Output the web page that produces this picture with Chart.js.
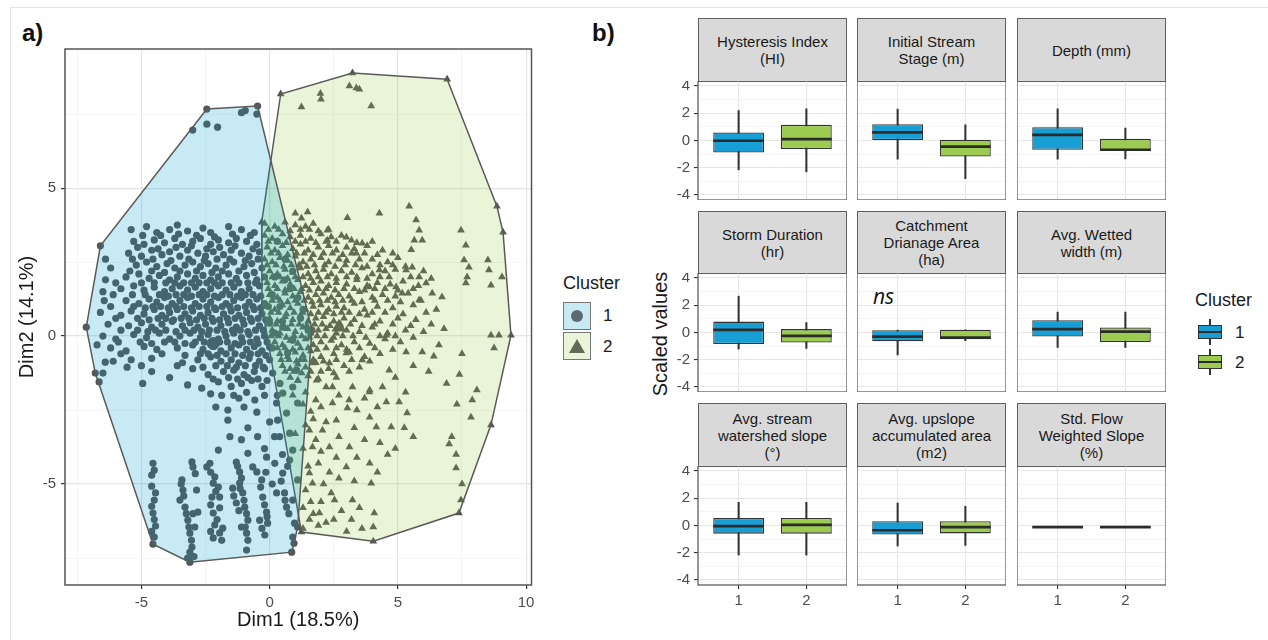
<!DOCTYPE html>
<html>
<head>
<meta charset="utf-8">
<script src="https://cdn.jsdelivr.net/npm/chart.js@4.4.1/dist/chart.umd.min.js"></script>
<style>
  body { margin: 0; background: #fff; }
  #fig { position: relative; width: 1268px; height: 640px; overflow: hidden; font-family: 'Liberation Sans', Arial, sans-serif; color: #1a1a1a; }
  #fig canvas { position: absolute; }
  .abs { position: absolute; white-space: nowrap; }
  .strip { position: absolute; box-sizing: border-box; background: #d9d9d9; border: 1.3px solid #5f5f5f; display: flex; align-items: center; justify-content: center; text-align: center; font-size: 15px; line-height: 17px; color: #1a1a1a; }
  .akey { position: absolute; box-sizing: border-box; width: 28px; height: 28px; border: 1.5px solid #777; }
  .dot { position: absolute; left: 6.5px; top: 6.5px; width: 12px; height: 12px; border-radius: 50%; background: #5d6a70; }
  .tri { position: absolute; left: 4.5px; top: 5.5px; width: 0; height: 0; border-left: 8px solid transparent; border-right: 8px solid transparent; border-bottom: 14px solid #626a58; }
</style>
</head>
<body>
<div id="fig">
  <div class="abs" style="left:10px;top:7px;width:1258px;height:640px;border-top:1px solid #e3e3e3;border-left:1px solid #e3e3e3;"></div>
  <div class="abs" style="left:22px;top:21px;font-size:24px;line-height:24px;font-weight:bold;color:#111;">a)</div>
  <div class="abs" style="left:592px;top:21px;font-size:24px;line-height:24px;font-weight:bold;color:#111;">b)</div>

  <div class="abs" style="left:563px;top:274px;font-size:18px;line-height:18px;">Cluster</div>
  <div class="akey" style="left:563px;top:302px;background:#c7eaf3;"><div class="dot"></div></div>
  <div class="akey" style="left:563px;top:332px;background:#eaf4d8;"><div class="tri"></div></div>
  <div class="abs" style="left:603px;top:307px;font-size:17px;line-height:17px;">1</div>
  <div class="abs" style="left:603px;top:338px;font-size:17px;line-height:17px;">2</div>

  <div class="abs" style="left:660px;top:334px;font-size:20px;line-height:20px;transform:translate(-50%,-50%) rotate(-90deg);">Scaled values</div>
  <div class="abs" style="left:873px;top:284px;font-size:21px;line-height:24px;font-style:italic;font-family:'Open Sans',sans-serif;color:#111;">ns</div>

  <div class="abs" style="left:1195px;top:291px;font-size:18px;line-height:18px;">Cluster</div>
  <div class="abs" style="left:1235px;top:324px;font-size:17px;line-height:17px;">1</div>
  <div class="abs" style="left:1235px;top:354px;font-size:17px;line-height:17px;">2</div>
</div>
<script>
// ---- panel a: PCA scores (Dim1, Dim2) ----
const cluster1 = [
  [-7.15,0.3],[-6.6,3.05],[-2.45,7.67],[-0.47,7.77],[1.65,0.2],[1.09,-6.45],[0.86,-7.3],[-3.11,-7.64],[-4.55,-7.03],[-6.65,-1.55],
  [-0.95,7.62],[-1.1,7.55],[-0.5,7.5],[-3.0,6.96],[-2.45,7.16],[-2.03,7.06],
  [-5.4,3.6],[-4.8,3.7],[-4.4,3.5],[-3.9,3.6],[-3.6,3.75],[-3.2,3.55],[-2.6,3.65],[-2.3,3.5],[-1.6,3.7],[-1.1,3.6],[-0.6,3.5],
  [-4.95,3.4],[-4.25,3.4],[-3.55,3.45],[-2.85,3.4],[-2.15,3.35],[-1.45,3.45],[-0.75,3.4],
  [-5.3,3.2],[-4.9,3.1],[-4.5,3.25],[-4.1,3.15],[-3.7,3.3],[-3.4,3.1],[-3.0,3.2],[-2.7,3.3],[-2.3,3.1],[-2.0,3.25],[-1.6,3.15],[-1.3,3.3],[-0.9,3.2],[-0.5,3.1],
  [-5.15,3.0],[-4.35,2.95],[-3.65,3.0],[-3.05,3.05],[-2.45,2.95],[-1.95,3.0],[-1.35,3.05],[-0.65,2.95],
  [-5.5,2.8],[-5.0,2.7],[-4.6,2.9],[-4.2,2.75],[-3.9,2.85],[-3.5,2.7],[-3.2,2.9],[-2.8,2.8],[-2.5,2.7],[-2.2,2.85],[-1.8,2.75],[-1.5,2.9],[-1.1,2.8],[-0.8,2.7],[-0.4,2.85],
  [-5.35,2.6],[-4.55,2.6],[-3.85,2.55],[-3.15,2.6],[-2.55,2.55],[-2.05,2.6],[-1.55,2.6],[-0.95,2.55],[-0.45,2.6],
  [-6.2,2.3],[-5.2,2.4],[-4.8,2.5],[-4.4,2.35],[-4.0,2.45],[-3.7,2.3],[-3.3,2.4],[-3.0,2.5],[-2.7,2.35],[-2.4,2.45],[-2.1,2.3],[-1.7,2.4],[-1.4,2.5],[-1.0,2.35],[-0.7,2.45],[-0.3,2.3],
  [-5.45,2.2],[-4.6,2.2],[-4.1,2.15],[-3.5,2.2],[-2.85,2.2],[-2.25,2.15],[-1.85,2.2],[-1.2,2.2],[-0.6,2.15],
  [-6.4,1.9],[-5.6,2.0],[-5.1,2.1],[-4.7,1.95],[-4.3,2.05],[-3.9,1.9],[-3.6,2.0],[-3.2,2.1],[-2.9,1.95],[-2.6,2.05],[-2.3,1.9],[-2.0,2.0],[-1.6,2.1],[-1.3,1.95],[-0.9,2.05],[-0.5,1.9],[-0.2,2.0],
  [-6.0,1.8],[-5.0,1.8],[-4.5,1.8],[-4.05,1.8],[-3.7,1.8],[-3.35,1.8],[-3.05,1.8],[-2.75,1.8],[-2.45,1.8],[-2.15,1.8],[-1.85,1.8],[-1.5,1.8],[-1.2,1.8],[-0.85,1.8],[-0.55,1.8],
  [-6.5,1.5],[-5.8,1.6],[-5.3,1.7],[-4.9,1.55],[-4.5,1.65],[-4.1,1.5],[-3.8,1.6],[-3.5,1.7],[-3.2,1.55],[-2.9,1.65],[-2.6,1.5],[-2.3,1.6],[-2.0,1.7],[-1.7,1.55],[-1.4,1.65],[-1.1,1.5],[-0.8,1.6],[-0.4,1.7],
  [-6.1,1.4],[-5.35,1.4],[-4.85,1.4],[-4.3,1.4],[-3.95,1.35],[-3.65,1.4],[-3.35,1.4],[-3.05,1.35],[-2.75,1.4],[-2.45,1.4],[-2.15,1.35],[-1.85,1.4],[-1.55,1.4],[-1.25,1.35],[-0.95,1.4],[-0.65,1.4],[-0.35,1.35],
  [-5.6,1.2],[-5.1,1.1],[-4.7,1.25],[-4.4,1.15],[-4.1,1.3],[-3.8,1.1],[-3.5,1.2],[-3.2,1.3],[-2.9,1.1],[-2.6,1.25],[-2.3,1.15],[-2.0,1.3],[-1.7,1.1],[-1.4,1.2],[-1.1,1.3],[-0.8,1.15],[-0.5,1.25],[-0.2,1.1],
  [-6.2,1.0],[-5.3,1.0],[-4.85,0.95],[-4.55,1.0],[-4.25,1.0],[-3.95,0.95],[-3.65,1.0],[-3.35,1.0],[-3.05,0.95],[-2.75,1.0],[-2.45,1.0],[-2.15,0.95],[-1.85,1.0],[-1.55,1.0],[-1.25,0.95],[-0.95,1.0],[-0.65,1.0],[-0.35,0.95],[-0.05,1.0],
  [-6.6,0.8],[-5.8,0.7],[-5.4,0.85],[-4.9,0.75],[-4.5,0.9],[-4.2,0.7],[-3.9,0.8],[-3.6,0.9],[-3.3,0.75],[-3.0,0.85],[-2.7,0.7],[-2.4,0.8],[-2.1,0.9],[-1.8,0.75],[-1.5,0.85],[-1.2,0.7],[-0.9,0.8],[-0.6,0.9],[-0.3,0.75],
  [-6.0,0.6],[-5.15,0.6],[-4.7,0.55],[-4.35,0.6],[-4.05,0.6],[-3.75,0.55],[-3.45,0.6],[-3.15,0.6],[-2.85,0.55],[-2.55,0.6],[-2.25,0.6],[-1.95,0.55],[-1.65,0.6],[-1.35,0.6],[-1.05,0.55],[-0.75,0.6],[-0.45,0.6],[-0.15,0.55],
  [-6.3,0.4],[-5.5,0.35],[-5.0,0.45],[-4.6,0.3],[-4.2,0.4],[-3.8,0.5],[-3.4,0.35],[-3.1,0.45],[-2.8,0.3],[-2.5,0.4],[-2.2,0.5],[-1.9,0.35],[-1.6,0.45],[-1.3,0.3],[-1.0,0.4],[-0.7,0.5],[-0.4,0.35],[0.0,0.45],
  [-5.8,0.2],[-5.15,0.2],[-4.75,0.15],[-4.45,0.2],[-4.05,0.2],[-3.65,0.15],[-3.3,0.2],[-2.95,0.2],[-2.65,0.15],[-2.35,0.2],[-2.05,0.2],[-1.75,0.15],[-1.45,0.2],[-1.15,0.2],[-0.85,0.15],[-0.55,0.2],[-0.25,0.2],
  [-6.5,0.0],[-6.0,-0.1],[-5.3,0.05],[-4.8,-0.05],[-4.3,0.1],[-3.9,-0.1],[-3.5,0.0],[-3.1,0.1],[-2.7,-0.05],[-2.4,0.05],[-2.0,-0.1],[-1.7,0.0],[-1.4,0.1],[-1.1,-0.05],[-0.8,0.05],[-0.5,-0.1],[-0.2,0.0],[0.2,0.1],
  [-5.9,-0.2],[-5.05,-0.2],[-4.6,-0.25],[-4.1,-0.2],[-3.7,-0.2],[-3.3,-0.25],[-2.9,-0.2],[-2.55,-0.2],[-2.25,-0.25],[-1.95,-0.2],[-1.65,-0.2],[-1.35,-0.25],[-1.05,-0.2],[-0.75,-0.2],[-0.45,-0.25],[-0.1,-0.2],
  [-6.2,-0.4],[-5.6,-0.5],[-4.9,-0.35],[-4.4,-0.45],[-3.6,-0.4],[-3.0,-0.3],[-2.6,-0.45],[-2.2,-0.35],[-1.9,-0.5],[-1.5,-0.4],[-1.2,-0.3],[-0.9,-0.45],[-0.6,-0.35],[-0.3,-0.5],[0.1,-0.4],
  [-5.8,-0.6],[-4.2,-0.6],[-3.3,-0.65],[-2.7,-0.6],[-2.4,-0.6],[-2.05,-0.65],[-1.7,-0.6],[-1.35,-0.6],[-1.05,-0.65],[-0.75,-0.6],[-0.45,-0.6],[-0.15,-0.65],
  [-6.1,-0.85],[-5.4,-0.8],[-4.6,-0.75],[-3.4,-0.9],[-2.8,-0.8],[-2.3,-0.7],[-1.9,-0.85],[-1.5,-0.8],[-1.2,-0.9],[-0.8,-0.75],[-0.4,-0.85],[0.0,-0.8],
  [-5.0,-1.0],[-3.6,-1.0],[-2.6,-1.05],[-2.1,-1.0],[-1.65,-1.0],[-1.3,-1.05],[-0.95,-1.0],[-0.55,-1.0],[-0.25,-1.05],
  [-6.5,-1.25],[-4.6,-1.2],[-3.0,-1.1],[-2.4,-1.3],[-1.8,-1.2],[-1.4,-1.15],[-1.0,-1.3],[-0.6,-1.2],[-0.2,-1.1],
  [-3.9,-1.4],[-2.2,-1.45],[-1.6,-1.4],[-1.25,-1.45],[-0.85,-1.4],[-0.45,-1.45],
  [-4.95,-1.6],[-3.2,-1.65],[-2.65,-1.76],[-2.0,-1.55],[-1.5,-1.7],[-1.1,-1.6],[-0.7,-1.5],[-0.3,-1.7],
  [-2.3,-1.95],[-1.4,-2.0],[-0.9,-1.9],[-0.1,-1.5],[0.4,-1.6],[-0.2,-2.0],[0.0,-2.9],[-1.0,-2.4],[-0.2,-3.8],[0.5,-4.0],[-1.1,-3.5],[-2.1,-2.4],
  [-1.87,-2.0],[-1.63,-2.5],[-1.63,-2.84],[-1.55,-3.4],[-0.85,-3.1],[-0.5,-2.57],[-0.47,-3.4],[0.19,-3.4],[-0.58,-2.16],[-2.0,-3.85],[-1.2,-2.1],[0.3,-2.0],
  [-5.56,-1.05],[-6.41,-0.88],[-6.73,-0.3],[-6.8,-1.25],[-6.4,2.6],[-6.45,1.2],
  [-4.55,-4.3],[-4.5,-4.53],[-4.6,-5.07],[-4.5,-5.54],[-4.55,-5.98],[-4.45,-6.42],[-4.5,-6.79],
  [-4.6,-4.7],[-4.45,-5.3],[-4.6,-5.75],[-4.5,-6.2],[-4.6,-6.6],
  [-3.42,-4.86],[-3.38,-5.2],[-3.5,-5.54],[-3.3,-5.78],[-3.19,-6.22],[-3.11,-6.66],[-3.03,-7.13],[-2.99,-4.42],[-3.03,-4.25],[-2.99,-6.0],[-2.92,-6.45],[-2.8,-5.95],[-3.11,-7.3],
  [-3.45,-5.0],[-3.35,-5.4],[-3.25,-6.0],[-3.15,-6.45],[-3.05,-6.9],[-2.95,-7.45],[-3.2,-7.5],[-2.9,-4.65],[-2.85,-5.2],
  [-2.45,-4.42],[-2.33,-4.3],[-2.2,-4.97],[-2.0,-5.1],[-2.25,-5.44],[-1.95,-5.44],[-2.2,-5.98],[-2.14,-6.38],[-1.83,-6.49],[-2.2,-6.82],[-1.87,-6.9],[-2.14,-4.76],
  [-2.3,-4.6],[-2.1,-5.25],[-2.3,-5.7],[-1.95,-5.8],[-2.05,-6.2],[-1.95,-6.65],[-2.3,-6.6],
  [-1.3,-4.26],[-1.17,-4.59],[-1.17,-4.97],[-1.05,-5.3],[-0.97,-5.78],[-0.85,-6.22],[-0.9,-6.66],[-0.9,-7.23],[-1.44,-5.14],[-1.3,-5.64],[-1.1,-6.45],[-0.85,-3.96],[-0.66,-4.42],
  [-1.25,-4.4],[-1.1,-4.8],[-1.15,-5.15],[-1.0,-5.55],[-0.9,-6.0],[-0.95,-6.45],[-0.85,-6.9],[-1.4,-5.4],[-1.2,-5.9],
  [-0.31,-4.86],[-0.27,-5.44],[-0.12,-5.95],[-0.08,-6.32],[-0.39,-6.22],[-0.19,-6.72],[-0.5,-4.59],[-0.12,-4.09],[0.27,-5.3],
  [-0.35,-5.1],[-0.2,-5.7],[-0.1,-6.1],[-0.3,-6.5],[-0.15,-4.6],[0.1,-5.0],[0.45,-4.9],[0.6,-5.55],[0.75,-6.0],[0.95,-7.0],[0.7,-4.4],[0.2,-4.3],
  [0.51,-4.63],[0.58,-5.3],[0.66,-5.78],[0.97,-6.32],[0.9,-6.79],[0.78,-4.19],[0.39,-3.4],
  [0.12,-1.25],[0.51,-1.93],[0.66,-2.6],[0.78,-3.28],[0.9,-3.85],[0.27,-2.26],[0.31,-2.84],[0.7,-0.57],[0.9,-0.14],[0.51,0.3],[0.0,-0.37],[1.05,-1.15],[0.9,-1.72],[1.09,-2.26],[1.09,-4.86],[0.9,-5.54],
  [0.3,3.2],[0.6,2.6],[0.2,2.0],[0.8,1.6],[0.4,1.0],[1.2,0.6],[1.5,0.2],[0.9,2.2],[0.5,0.5],[1.1,1.3],[0.1,1.4],[0.6,1.9],[1.3,0.9]
];
const cluster2 = [
  [0.43,8.18],[3.23,8.89],[6.92,8.68],[8.86,4.39],[9.1,3.51],[9.41,0.03],[8.63,-3.0],[7.38,-5.98],[4.04,-6.93],[1.24,-6.62],[-0.3,1.0],[-0.31,3.85],
  [1.98,8.2],[2.0,8.0],[1.24,7.74],[3.11,8.45],[3.38,8.38],[3.5,8.34],[3.96,7.77],
  [5.44,4.39],[4.28,4.15],[3.03,4.0],[1.48,4.19],[1.0,4.15],[1.24,3.98],[2.25,3.58],[2.25,3.24],[2.99,3.34],[3.19,3.24],[3.61,3.14],[3.38,2.8],[3.5,2.6],
  [5.71,3.92],[5.83,3.58],[5.64,3.24],[5.95,3.24],[5.52,2.92],[7.46,3.58],[7.65,3.07],[7.58,2.57],[7.77,2.33],[7.7,2.0],[7.65,1.79],[8.51,2.57],[8.55,2.23],[9.06,2.0],[8.63,1.72],
  [6.72,1.32],[6.34,1.45],[5.56,2.33],[5.83,2.0],[6.1,1.79],[5.32,2.23],[4.66,2.0],[4.93,1.66],[5.17,1.45],[5.83,1.22],[4.28,2.23],[3.89,1.66],
  [5.95,-0.54],[6.4,-0.68],[7.5,-0.6],[8.63,0.03],[8.94,0.03],[8.75,-0.4],[8.08,-1.82],[7.9,-2.16],[7.85,-2.74],[7.1,-3.4],[7.0,-3.65],[7.27,-4.0],[7.27,-4.46],[7.5,-5.0],[7.46,-5.54],
  [5.36,-2.6],[5.25,-3.1],[5.6,-3.4],[5.05,-2.23],[4.55,-2.23],[4.74,-3.07],[4.16,-3.07],[3.9,-2.74],[3.9,-4.3],[3.96,-4.97],[4.08,-5.98],[4.04,-6.45],
  [3.23,-5.54],[3.19,-6.2],[2.53,-5.54],[2.5,-6.2],[1.94,-5.98],[1.55,-6.2],[1.67,-4.97],[2.33,-4.6],[2.99,-4.42],[3.11,-3.75],[2.33,-3.75],[1.67,-3.75],[1.55,-4.63],
  [2.6,-2.84],[2.06,-3.18],[1.55,-3.18],[1.8,-2.16],[2.45,-1.72],[3.23,-1.72],[3.9,-1.82],[4.4,-1.72],[5.32,-0.54],[4.55,0.03],[4.66,-1.15],[3.89,-1.89],
  [3.61,-0.81],[2.99,-0.57],[2.33,-0.91],[1.83,-1.49],[1.67,-0.91],[2.2,-1.72],[3.1,-2.16],[2.45,-2.26],[3.03,-2.43],
  [1.3,-2.3],[1.4,-3.0],[1.3,-3.8],[1.5,-4.4],[1.4,-5.2],[1.3,-5.8],[1.3,-6.5],[1.7,-2.8],[1.8,-3.5],[1.6,-5.6],[1.9,-6.4],[1.1,-1.5],[1.2,-0.8],[0.9,-2.0],[1.0,-3.3],
  [1.4,-1.9],[2.0,-2.4],[2.7,-2.0],[3.4,-2.5],[4.2,-2.4],[1.6,-2.55],[2.2,-2.9],[3.3,-3.1],[3.7,-3.5],[2.7,-3.4],[2.0,-3.9],[2.6,-4.1],[3.4,-4.1],[1.9,-4.3],
  [2.1,-5.0],[2.7,-4.8],[3.3,-4.9],[2.4,-5.3],[2.0,-5.6],[2.8,-5.9],[3.5,-5.8],[2.2,-6.3],[1.7,-6.0],[3.0,-6.6],[3.6,-6.5],[4.6,-4.0],[4.3,-3.6],[4.9,-3.8],[4.2,-4.6],
  [3.7,-2.1],[4.9,-1.4],[5.6,-1.0],[6.2,-1.2],[5.3,-1.9],[6.6,-0.3],[6.9,-1.6],[7.3,-2.3],[7.4,-1.3],
  [-0.2,3.8],[0.2,3.7],[0.6,3.85],[1.0,3.75],[1.4,3.7],[1.7,3.8],
  [-0.05,3.6],[0.35,3.6],[0.8,3.55],[1.2,3.6],[1.55,3.6],[1.9,3.55],[2.3,3.6],
  [-0.2,3.4],[0.1,3.3],[0.5,3.45],[0.8,3.35],[1.2,3.4],[1.6,3.3],[2.0,3.45],[2.4,3.35],[2.8,3.4],
  [-0.05,3.2],[0.3,3.2],[0.65,3.15],[1.0,3.2],[1.4,3.2],[1.8,3.15],[2.2,3.2],[2.6,3.2],[3.4,3.15],[4.0,3.2],
  [-0.1,3.0],[0.2,2.9],[0.5,3.05],[0.9,2.95],[1.2,3.1],[1.5,2.9],[1.9,3.0],[2.3,3.05],[2.6,2.9],[3.0,3.0],[3.3,2.95],[3.8,3.05],[4.4,2.9],
  [0.05,2.8],[0.35,2.8],[0.7,2.75],[1.05,2.8],[1.35,2.8],[1.7,2.75],[2.1,2.8],[2.45,2.8],[2.85,2.75],[3.2,2.8],[3.7,2.8],[4.2,2.75],[4.8,2.8],
  [-0.2,2.6],[0.1,2.5],[0.4,2.65],[0.7,2.55],[1.0,2.7],[1.3,2.5],[1.6,2.6],[2.0,2.65],[2.3,2.5],[2.7,2.6],[3.0,2.55],[4.0,2.6],[4.6,2.5],[5.0,2.65],
  [-0.1,2.4],[0.25,2.4],[0.55,2.35],[0.85,2.4],[1.15,2.4],[1.45,2.35],[1.75,2.4],[2.15,2.4],[2.55,2.35],[2.95,2.4],[3.35,2.4],[3.8,2.35],[4.3,2.4],[4.8,2.4],[5.3,2.35],
  [0.0,2.2],[0.3,2.1],[0.6,2.25],[0.9,2.15],[1.2,2.3],[1.5,2.1],[1.8,2.2],[2.1,2.25],[2.4,2.1],[2.8,2.2],[3.2,2.15],[3.6,2.3],[4.0,2.1],[4.5,2.2],[4.9,2.25],[6.0,2.2],
  [0.1,2.0],[0.4,2.0],[0.7,1.95],[1.0,2.0],[1.3,2.0],[1.6,1.95],[1.9,2.0],[2.25,2.0],[2.6,1.95],[3.0,2.0],[3.4,2.0],[3.8,1.95],[4.3,2.0],[5.5,2.0],[6.3,1.95],
  [-0.1,1.8],[0.2,1.7],[0.5,1.85],[0.8,1.75],[1.1,1.9],[1.4,1.7],[1.7,1.8],[2.0,1.85],[2.3,1.7],[2.6,1.8],[3.0,1.75],[3.4,1.9],[3.8,1.7],[4.2,1.8],[4.7,1.75],[5.2,1.85],[5.8,1.7],
  [-0.05,1.6],[0.3,1.6],[0.6,1.55],[0.95,1.6],[1.25,1.6],[1.55,1.55],[1.9,1.6],[2.2,1.6],[2.55,1.55],[2.9,1.6],[3.3,1.6],[3.7,1.55],[4.1,1.6],[4.5,1.6],[5.0,1.55],[5.6,1.6],
  [0.0,1.4],[0.3,1.3],[0.6,1.45],[0.9,1.35],[1.2,1.5],[1.5,1.3],[1.8,1.4],[2.1,1.45],[2.4,1.3],[2.7,1.4],[3.1,1.35],[3.5,1.5],[4.0,1.3],[4.4,1.4],[4.9,1.35],[5.4,1.45],
  [0.1,1.2],[0.4,1.2],[0.7,1.15],[1.0,1.2],[1.35,1.2],[1.65,1.15],[1.95,1.2],[2.25,1.2],[2.55,1.15],[2.85,1.2],[3.2,1.2],[3.6,1.15],[4.1,1.2],[4.6,1.2],[5.1,1.15],[5.9,1.2],
  [-0.1,1.0],[0.2,0.9],[0.5,1.05],[0.8,0.95],[1.1,1.1],[1.4,0.9],[1.7,1.0],[2.0,1.05],[2.3,0.9],[2.6,1.0],[2.9,0.95],[3.3,1.1],[3.7,0.9],[4.2,1.0],[4.8,0.95],[5.6,1.05],[6.5,0.9],
  [0.05,0.8],[0.35,0.8],[0.65,0.75],[0.95,0.8],[1.3,0.8],[1.6,0.75],[1.9,0.8],[2.2,0.8],[2.5,0.75],[2.8,0.8],[3.1,0.8],[3.5,0.75],[4.0,0.8],[4.5,0.8],[5.2,0.75],[6.1,0.8],
  [0.0,0.6],[0.3,0.5],[0.6,0.65],[0.9,0.55],[1.2,0.7],[1.5,0.5],[1.8,0.6],[2.1,0.65],[2.5,0.5],[2.9,0.6],[3.3,0.55],[3.8,0.7],[4.3,0.5],[5.0,0.6],[5.7,0.55],
  [-0.05,0.4],[0.25,0.4],[0.55,0.35],[0.85,0.4],[1.15,0.4],[1.45,0.35],[1.75,0.4],[2.05,0.4],[2.35,0.35],[2.75,0.4],[3.15,0.4],[3.6,0.35],[4.1,0.4],[4.8,0.4],[5.5,0.35],[6.3,0.4],
  [0.1,0.2],[0.4,0.1],[0.7,0.25],[1.0,0.15],[1.3,0.3],[1.6,0.1],[1.9,0.2],[2.2,0.25],[2.6,0.1],[3.0,0.2],[3.5,0.15],[4.0,0.3],[4.6,0.1],[5.3,0.2],[6.0,0.15],[6.8,0.25],
  [0.05,0.0],[0.35,0.0],[0.65,-0.05],[0.95,0.0],[1.25,0.0],[1.55,-0.05],[1.85,0.0],[2.15,0.0],[2.5,-0.05],[2.85,0.0],[3.25,0.0],[3.75,-0.05],[4.3,0.0],[4.9,0.0],[5.6,-0.05],
  [0.2,-0.2],[0.5,-0.3],[0.8,-0.15],[1.1,-0.25],[1.4,-0.1],[1.7,-0.3],[2.0,-0.2],[2.4,-0.15],[2.8,-0.3],[3.3,-0.2],[3.9,-0.25],[4.5,-0.1],[5.1,-0.2],
  [0.3,-0.4],[0.6,-0.4],[0.9,-0.45],[1.2,-0.4],[1.5,-0.4],[1.85,-0.45],[2.2,-0.4],[2.6,-0.4],[3.0,-0.45],[3.5,-0.4],[4.1,-0.4],[4.8,-0.45],
  [0.4,-0.6],[0.7,-0.7],[1.0,-0.55],[1.3,-0.65],[1.6,-0.5],[2.0,-0.7],[2.5,-0.6],[3.1,-0.55],[3.7,-0.7],[4.3,-0.6],
  [0.45,-0.8],[0.75,-0.8],[1.05,-0.85],[1.35,-0.8],[1.7,-0.8],[2.1,-0.85],[2.6,-0.8],[3.2,-0.8],[3.9,-0.85],
  [0.5,-1.0],[0.8,-1.1],[1.1,-0.95],[1.4,-1.05],[1.8,-0.9],[2.3,-1.1],[2.9,-1.0],[3.5,-1.05],
  [0.6,-1.2],[0.95,-1.2],[1.25,-1.25],[1.6,-1.2],[2.0,-1.2],[2.5,-1.25],[3.1,-1.2],
  [0.8,-1.4],[1.1,-1.5],[1.5,-1.35],[1.9,-1.45],[2.6,-1.4]
];
const center1 = [[-2.2, -0.25]];
const center2 = [[2.7, 0.3]];
const dimTicks = [-7.5, -5, -2.5, 0, 2.5, 5, 7.5, 10];

// ---- panel b: boxplot stats per variable [lower whisker, Q1, median, Q3, upper whisker] ----
const facetTitles = [
  ['Hysteresis Index', '(HI)'], ['Initial Stream', 'Stage (m)'], ['Depth (mm)'],
  ['Storm Duration', '(hr)'], ['Catchment', 'Drianage Area', '(ha)'], ['Avg. Wetted', 'width (m)'],
  ['Avg. stream', 'watershed slope', '(°)'], ['Avg. upslope', 'accumulated area', '(m2)'], ['Std. Flow', 'Weighted Slope', '(%)']
];
const cluster1Stats = [
  [-2.15, -0.88, -0.02, 0.59, 2.2],
  [-1.37, 0.0, 0.6, 1.2, 2.3],
  [-1.37, -0.68, 0.42, 0.98, 2.33],
  [-1.22, -0.85, 0.2, 0.8, 2.67],
  [-1.65, -0.65, -0.3, 0.17, 0.17],
  [-1.1, -0.3, 0.25, 0.9, 1.5],
  [-2.17, -0.6, -0.05, 0.56, 1.7],
  [-1.51, -0.66, -0.35, 0.31, 1.65],
  [-0.12, -0.12, -0.12, -0.12, -0.12]
];
const cluster2Stats = [
  [-2.3, -0.63, 0.1, 1.15, 2.33],
  [-2.8, -1.17, -0.45, 0.05, 1.15],
  [-1.35, -0.76, -0.68, 0.12, 0.91],
  [-1.17, -0.73, -0.25, 0.25, 0.73],
  [-0.6, -0.5, -0.38, 0.2, 0.2],
  [-1.1, -0.7, 0.07, 0.37, 1.5],
  [-2.17, -0.6, 0.05, 0.56, 1.7],
  [-1.46, -0.58, -0.12, 0.31, 1.41],
  [-0.12, -0.12, -0.12, -0.12, -0.12]
];
const clusterLabels = ['1', '2'];
const valueTicks = [-4, -3, -2, -1, 0, 1, 2, 3, 4];
const boxColors = ['#179fd5', '#9bcc4f'];

const FONT = "'Liberation Sans', Arial, sans-serif";
Chart.defaults.font.family = FONT;
const fig = document.getElementById('fig');

function convexHull(pts) {
  const p = pts.slice().sort((a, b) => a[0] - b[0] || a[1] - b[1]);
  const cross = (o, a, b) => (a[0] - o[0]) * (b[1] - o[1]) - (a[1] - o[1]) * (b[0] - o[0]);
  const lower = [], upper = [];
  for (const q of p) {
    while (lower.length >= 2 && cross(lower[lower.length - 2], lower[lower.length - 1], q) <= 0) lower.pop();
    lower.push(q);
  }
  for (let i = p.length - 1; i >= 0; i--) {
    const q = p[i];
    while (upper.length >= 2 && cross(upper[upper.length - 2], upper[upper.length - 1], q) <= 0) upper.pop();
    upper.push(q);
  }
  lower.pop(); upper.pop();
  const ring = lower.concat(upper);
  ring.push(ring[0]);
  return ring;
}

function addCanvas(left, top, w, h) {
  const cv = document.createElement('canvas');
  cv.width = w; cv.height = h;
  cv.style.left = left + 'px'; cv.style.top = top + 'px';
  fig.appendChild(cv);
  return cv;
}

const frame = (color, width) => ({
  id: 'frame',
  afterDraw(chart) {
    const a = chart.chartArea, c = chart.ctx;
    c.save();
    c.strokeStyle = color; c.lineWidth = width;
    c.strokeRect(a.left, a.top, a.right - a.left, a.bottom - a.top);
    c.restore();
  }
});

// ---- panel a ----
const canvasA = addCanvas(10, 40, 530, 595);
const gridA = {
  color: c => (c.tick && c.tick.value % 5 === 0) ? '#e4e4e4' : '#f0f0f0',
  lineWidth: c => (c.tick && c.tick.value % 5 === 0) ? 1.2 : 0.7,
  tickColor: c => (c.tick && c.tick.value % 5 === 0) ? '#333' : 'rgba(0,0,0,0)',
  tickLength: 4
};
const ticksA = { color: '#4d4d4d', font: { size: 15 }, padding: 5, autoSkip: false, maxRotation: 0,
  callback: v => (v % 5 === 0 ? String(v) : '') };

new Chart(canvasA, {
  type: 'scatter',
  data: {
    datasets: [
      { type: 'line', data: convexHull(cluster1), fill: 'shape', backgroundColor: 'rgba(0,160,205,0.22)',
        borderColor: '#5a5a5a', borderWidth: 1.5, pointRadius: 0, tension: 0 },
      { type: 'line', data: convexHull(cluster2), fill: 'shape', backgroundColor: 'rgba(150,200,60,0.2)',
        borderColor: '#5a5a5a', borderWidth: 1.5, pointRadius: 0, tension: 0 },
      { data: center1, pointStyle: 'circle', pointRadius: 6.5, pointBackgroundColor: '#555', pointBorderWidth: 0 },
      { data: center2, pointStyle: 'triangle', pointRadius: 8.5, pointBackgroundColor: '#555', pointBorderWidth: 0 },
      { data: cluster1, pointStyle: 'circle', pointRadius: 3.6, pointBackgroundColor: '#555', pointBorderWidth: 0 },
      { data: cluster2, pointStyle: 'triangle', pointRadius: 4.5, pointBackgroundColor: '#555', pointBorderWidth: 0 }
    ]
  },
  options: {
    responsive: false, animation: false, events: [], devicePixelRatio: 1,
    layout: { padding: { top: 9, right: 7, left: 0, bottom: 0 } },
    plugins: { legend: { display: false }, tooltip: { enabled: false } },
    scales: {
      x: {
        type: 'linear', min: -7.98, max: 10.21,
        afterBuildTicks: s => { s.ticks = dimTicks.map(v => ({ value: v })); },
        afterFit: s => { s.height = 50; s.paddingLeft = 0; s.paddingRight = 0; },
        grid: gridA, border: { display: false }, ticks: ticksA,
        title: { display: true, text: 'Dim1 (18.5%)', color: '#1a1a1a', font: { size: 20 }, padding: { top: 0, bottom: 3 } }
      },
      y: {
        type: 'linear', min: -8.41, max: 9.7,
        afterBuildTicks: s => { s.ticks = dimTicks.filter(v => v < 9).map(v => ({ value: v })); },
        afterFit: s => { s.width = 55; s.paddingTop = 0; s.paddingBottom = 0; },
        grid: gridA, border: { display: false }, ticks: ticksA,
        title: { display: true, text: 'Dim2 (14.1%)', color: '#1a1a1a', font: { size: 20 }, padding: { top: 5, bottom: 0 } }
      }
    }
  },
  plugins: [frame('#555', 1.5)]
});

// ---- panel b ----
const panelLeft = [698, 857, 1017];
const panelTop = [81, 273, 466];
const stripTop = [18, 211, 403];
const panelW = 149, panelH = 119;

function facet(i) {
  const col = i % 3, row = Math.floor(i / 3);
  const yW = col === 0 ? 30 : 0, xH = row === 2 ? 24 : 0;

  const strip = document.createElement('div');
  strip.className = 'strip';
  strip.style.left = panelLeft[col] + 'px';
  strip.style.top = stripTop[row] + 'px';
  strip.style.width = panelW + 'px';
  strip.style.height = (panelTop[row] - stripTop[row] + 1) + 'px';
  strip.innerHTML = facetTitles[i].join('<br>');
  fig.appendChild(strip);

  const cv = addCanvas(panelLeft[col] - yW, panelTop[row], panelW + yW, panelH + xH);
  const s1 = cluster1Stats[i], s2 = cluster2Stats[i];
  const stats = [s1, s2];

  const medians = {
    id: 'medians',
    afterDatasetsDraw(chart) {
      const y = chart.scales.y, c = chart.ctx;
      c.save();
      c.strokeStyle = '#2b2b2b'; c.lineWidth = 2.7;
      chart.getDatasetMeta(0).data.forEach((bar, j) => {
        const py = y.getPixelForValue(stats[j][2]);
        c.beginPath();
        c.moveTo(bar.x - bar.width / 2, py);
        c.lineTo(bar.x + bar.width / 2, py);
        c.stroke();
      });
      c.restore();
    }
  };

  new Chart(cv, {
    type: 'bar',
    data: {
      datasets: [
        { data: [{ x: 1, y: [s1[1], s1[3]] }, { x: 2, y: [s2[1], s2[3]] }],
          backgroundColor: boxColors, borderColor: '#333', borderWidth: 1.3, borderSkipped: false,
          grouped: false, barPercentage: 0.75, categoryPercentage: 1 },
        { data: [{ x: 1, y: [s1[0], s1[4]] }, { x: 2, y: [s2[0], s2[4]] }],
          backgroundColor: '#333', barThickness: 1.4, grouped: false }
      ]
    },
    options: {
      responsive: false, animation: false, events: [], devicePixelRatio: 1,
      layout: { padding: 0 },
      plugins: { legend: { display: false }, tooltip: { enabled: false } },
      scales: {
        x: {
          type: 'linear', min: 0.4, max: 2.6, offset: false,
          afterBuildTicks: s => { s.ticks = [1, 2].map(v => ({ value: v })); },
          afterFit: s => { s.height = xH; s.paddingLeft = 0; s.paddingRight = 0; },
          grid: { offset: false, color: '#e6e6e6', lineWidth: 1.1, drawTicks: row === 2, tickLength: 4, tickColor: '#333' },
          border: { display: false },
          ticks: { display: row === 2, color: '#4d4d4d', font: { size: 15 }, padding: 3, autoSkip: false, maxRotation: 0,
            callback: v => clusterLabels[v - 1] }
        },
        y: {
          min: -4.37, max: 4.37,
          afterBuildTicks: s => { s.ticks = valueTicks.map(v => ({ value: v })); },
          afterFit: s => { s.width = yW; s.paddingTop = 0; s.paddingBottom = 0; },
          grid: {
            color: c => (c.tick && c.tick.value % 2 === 0) ? '#e6e6e6' : '#f1f1f1',
            lineWidth: c => (c.tick && c.tick.value % 2 === 0) ? 1.1 : 0.7,
            tickColor: c => (c.tick && c.tick.value % 2 === 0) ? '#333' : 'rgba(0,0,0,0)',
            drawTicks: col === 0, tickLength: 4
          },
          border: { display: false },
          ticks: { display: col === 0, color: '#4d4d4d', font: { size: 15 }, padding: 4, autoSkip: false,
            callback: v => (v % 2 === 0 ? String(v) : '') }
        }
      }
    },
    plugins: [medians, frame('#5f5f5f', 1.3)]
  });
}
facetTitles.forEach((t, i) => facet(i));

// legend keys for panel b
function boxKey(top, color) {
  const w = document.createElement('div');
  w.className = 'abs';
  w.style.cssText = 'left:1198px;top:' + top + 'px;width:24px;height:26px;';
  w.innerHTML =
    '<div style="position:absolute;left:11.3px;top:0;width:1.4px;height:26px;background:#333"></div>' +
    '<div style="position:absolute;left:0;top:6px;width:24px;height:14px;box-sizing:border-box;border:1.3px solid #333;background:' + color + '"></div>' +
    '<div style="position:absolute;left:0;top:12px;width:24px;height:2.4px;background:#2b2b2b"></div>';
  fig.appendChild(w);
}
boxKey(319, boxColors[0]);
boxKey(349, boxColors[1]);
</script>
</body>
</html>
